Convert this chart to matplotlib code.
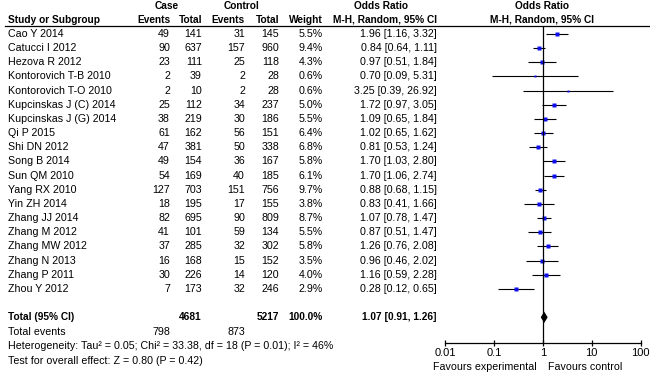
import matplotlib
matplotlib.use("Agg")
import matplotlib.pyplot as plt
from matplotlib import transforms
import numpy as np

plt.rcParams['font.family'] = ['Liberation Sans', 'DejaVu Sans']
plt.rcParams['font.size'] = 7.7

# study data
studies = ["Cao Y 2014", "Catucci I 2012", "Hezova R 2012", "Kontorovich T-B 2010",
           "Kontorovich T-O 2010", "Kupcinskas J (C) 2014", "Kupcinskas J (G) 2014",
           "Qi P 2015", "Shi DN 2012", "Song B 2014", "Sun QM 2010", "Yang RX 2010",
           "Yin ZH 2014", "Zhang JJ 2014", "Zhang M 2012", "Zhang MW 2012",
           "Zhang N 2013", "Zhang P 2011", "Zhou Y 2012"]
case_events = [49, 90, 23, 2, 2, 25, 38, 61, 47, 49, 54, 127, 18, 82, 41, 37, 16, 30, 7]
case_total = [141, 637, 111, 39, 10, 112, 219, 162, 381, 154, 169, 703, 195, 695, 101, 285, 168, 226, 173]
ctrl_events = [31, 157, 25, 2, 2, 34, 30, 56, 50, 36, 40, 151, 17, 90, 59, 32, 15, 14, 32]
ctrl_total = [145, 960, 118, 28, 28, 237, 186, 151, 338, 167, 185, 756, 155, 809, 134, 302, 152, 120, 246]
weight = [5.5, 9.4, 4.3, 0.6, 0.6, 5.0, 5.5, 6.4, 6.8, 5.8, 6.1, 9.7, 3.8, 8.7, 5.5, 5.8, 3.5, 4.0, 2.9]
odds = [1.96, 0.84, 0.97, 0.70, 3.25, 1.72, 1.09, 1.02, 0.81, 1.70, 1.70, 0.88, 0.83, 1.07, 0.87, 1.26, 0.96, 1.16, 0.28]
ci_lo = [1.16, 0.64, 0.51, 0.09, 0.39, 0.97, 0.65, 0.65, 0.53, 1.03, 1.06, 0.68, 0.41, 0.78, 0.51, 0.76, 0.46, 0.59, 0.12]
ci_hi = [3.32, 1.11, 1.84, 5.31, 26.92, 3.05, 1.84, 1.62, 1.24, 2.80, 2.74, 1.15, 1.66, 1.47, 1.47, 2.08, 2.02, 2.28, 0.65]

total_case, total_ctrl = 4681, 5217
total_case_events, total_ctrl_events = 798, 873
total_or, total_lo, total_hi = 1.07, 0.91, 1.26
tick_vals = [0.01, 0.1, 1, 10, 100]
hetero_txt = "Heterogeneity: Tau\u00b2 = 0.05; Chi\u00b2 = 33.38, df = 18 (P = 0.01); I\u00b2 = 46%"
effect_txt = "Test for overall effect: Z = 0.80 (P = 0.42)"

W, H = 650, 374
fig = plt.figure(figsize=(6.5, 3.74), dpi=100)
ax = fig.add_axes([445 / W, 1 - 342.5 / H, 195.5 / W, 342.5 / H])

rows = np.arange(len(studies))
r_total = len(studies) + 1
r_events = r_total + 1.05
r_het = r_total + 2.05
r_test = r_total + 3.1
r_hline = -0.565
r_colhead = -0.99
r_group = -1.98

ax.set_xscale('log')
ax.set_xlim(0.01, 100)
ax.set_ylim(21.78, -2.4)

# CI lines and weighted squares
for i in rows:
    ax.plot([ci_lo[i], ci_hi[i]], [i, i], color='black', lw=0.8, solid_capstyle='butt')
    ax.plot(odds[i], i, marker='s', color='#1010ee', mec='none',
            ms=1.3 + 0.55 * np.sqrt(weight[i]))

# pooled diamond
dh = 0.4
ax.fill([total_lo, total_or, total_hi, total_or],
        [r_total, r_total - dh, r_total, r_total + dh], color='black', lw=0)

ax.vlines(1, r_hline, 21.78, color='black', lw=0.9)

for s in ['top', 'right', 'left']:
    ax.spines[s].set_visible(False)
ax.spines['bottom'].set_linewidth(0.9)
ax.set_yticks([])
ax.set_xticks(tick_vals)
ax.set_xticklabels([f"{v:g}" for v in tick_vals])
ax.minorticks_off()
ax.tick_params(axis='x', direction='inout', length=4.5, width=0.9, pad=1.8, labelsize=8)
ax.patch.set_visible(False)

# table text
tr = transforms.blended_transform_factory(fig.transFigure, ax.transData)

def put(px, r, s, ha='right', bold=False):
    fig.text(px / W, r, s, transform=tr, ha=ha, va='center',
             fontweight='bold' if bold else 'normal',
             fontsize=7.3 if bold else 7.7)

# header
put(167, r_group, "Case", ha='center', bold=True)
put(242, r_group, "Control", ha='center', bold=True)
put(381, r_group, "Odds Ratio", ha='center', bold=True)
put(542, r_group, "Odds Ratio", ha='center', bold=True)
put(8, r_colhead, "Study or Subgroup", ha='left', bold=True)
put(171, r_colhead, "Events", bold=True)
put(202, r_colhead, "Total", bold=True)
put(245, r_colhead, "Events", bold=True)
put(279, r_colhead, "Total", bold=True)
put(323, r_colhead, "Weight", bold=True)
put(437, r_colhead, "M-H, Random, 95% CI", bold=True)
put(542, r_colhead, "M-H, Random, 95% CI", ha='center', bold=True)
fig.add_artist(plt.Line2D([5 / W, 1.0], [r_hline, r_hline], transform=tr,
                          color='black', lw=0.9))

for i in rows:
    put(8, i, studies[i], ha='left')
    put(170, i, str(case_events[i]))
    put(202, i, str(case_total[i]))
    put(245, i, str(ctrl_events[i]))
    put(279, i, str(ctrl_total[i]))
    put(323, i, f"{weight[i]:.1f}%")
    put(437, i, f"{odds[i]:.2f} [{ci_lo[i]:.2f}, {ci_hi[i]:.2f}]")

put(8, r_total, "Total (95% CI)", ha='left', bold=True)
put(202, r_total, str(total_case), bold=True)
put(279, r_total, str(total_ctrl), bold=True)
put(323, r_total, "100.0%", bold=True)
put(437, r_total, f"{total_or:.2f} [{total_lo:.2f}, {total_hi:.2f}]", bold=True)
put(8, r_events, "Total events", ha='left')
put(170, r_events, str(total_case_events))
put(245, r_events, str(total_ctrl_events))
put(8, r_het, hetero_txt, ha='left')
put(8, r_test, effect_txt, ha='left')

fig.text(537 / W, 1 - 367 / H, "Favours experimental", ha='right', va='center', fontsize=7.7)
fig.text(548 / W, 1 - 367 / H, "Favours control", ha='left', va='center', fontsize=7.7)

fig.savefig("out.png", dpi=100)
